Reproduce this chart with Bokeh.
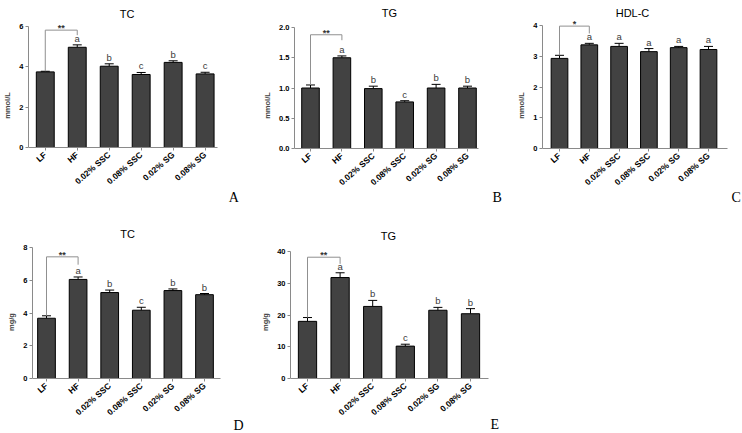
from bokeh.plotting import figure
from bokeh.layouts import row, column
from bokeh.models import (Range1d, FixedTicker, Label, Whisker, ColumnDataSource,
                          TeeHead, NumeralTickFormatter)
from bokeh.embed import file_html
from bokeh.resources import INLINE
from bokeh.core.properties import value

groups = ["LF", "HF", "0.02% SSC", "0.08% SSC", "0.02% SG", "0.08% SG"]

# A: serum TC (mmol/L)
tc_serum = [3.75, 4.97, 4.03, 3.62, 4.22, 3.65]
tc_serum_err = [0.03, 0.12, 0.12, 0.10, 0.08, 0.08]
tc_serum_letters = ["", "a", "b", "c", "b", "c"]
tc_serum_ticks = [0, 2, 4, 6]
tc_serum_bracket = [3.78, 5.82, 5.57]

# B: serum TG (mmol/L)
tg_serum = [1.00, 1.50, 0.99, 0.77, 1.00, 1.00]
tg_serum_err = [0.05, 0.03, 0.04, 0.02, 0.06, 0.03]
tg_serum_letters = ["", "a", "b", "c", "b", "b"]
tg_serum_ticks = [0, 0.5, 1.0, 1.5, 2.0]
tg_serum_bracket = [1.05, 1.88, 1.79]

# C: serum HDL-C (mmol/L)
hdl_serum = [2.93, 3.37, 3.32, 3.15, 3.28, 3.22]
hdl_serum_err = [0.10, 0.05, 0.10, 0.10, 0.04, 0.10]
hdl_serum_letters = ["", "a", "a", "a", "a", "a"]
hdl_serum_ticks = [0, 1, 2, 3, 4]
hdl_serum_bracket = [3.03, 3.98, 3.74]

# D: liver TC (mg/g)
tc_liver = [3.68, 6.05, 5.25, 4.17, 5.37, 5.12]
tc_liver_err = [0.15, 0.15, 0.15, 0.18, 0.10, 0.07]
tc_liver_letters = ["", "a", "b", "c", "b", "b"]
tc_liver_ticks = [0, 2, 4, 6, 8]
tc_liver_bracket = [3.83, 7.43, 6.95]

# E: liver TG (mg/g)
tg_liver = [18.0, 31.8, 22.7, 10.2, 21.5, 20.4]
tg_liver_err = [1.2, 1.5, 1.9, 0.6, 0.9, 1.6]
tg_liver_letters = ["", "a", "b", "c", "b", "b"]
tg_liver_ticks = [0, 10, 20, 30, 40]
tg_liver_bracket = [19.2, 38.2, 36.1]

FONT = "Liberation Sans"
AXIS_GRAY = "#8a8a8a"
BAR_FILL = "#424242"


def panel(title, ylabel, vals, errs, letters, ticks, ymax, fmt, bracket, stars, panel_letter,
          box, axis_x, y0_px, ytop_px, lf_px, step_px, axis_end_px, title_px, letter_px):
    # box: (left, top, width, height) of the figure on the page (pixels)
    fx, fy, w, h = box
    k = (y0_px - ytop_px) / ymax

    def X(px):
        return (px - lf_px) / step_px

    def Y(py):
        return (y0_px - py) / k

    p = figure(width=w, height=h, output_backend="svg", toolbar_location=None,
               x_range=Range1d(X(axis_x), X(fx + w)), y_range=Range1d(Y(fy + h), Y(fy)),
               min_border_left=axis_x - fx, min_border_right=0,
               min_border_top=0, min_border_bottom=0)
    p.outline_line_color = None
    p.xgrid.visible = False
    p.ygrid.visible = False
    p.background_fill_color = "white"
    p.border_fill_color = "white"

    xs = list(range(len(groups)))
    src = ColumnDataSource(dict(x=xs, top=vals, up=[v + e for v, e in zip(vals, errs)],
                                lab=letters))
    p.vbar(x="x", top="top", width=0.56, bottom=0, source=src,
           fill_color=BAR_FILL, line_color="black", line_width=1)
    p.add_layout(Whisker(base="x", upper="up", lower="top", source=src,
                         line_color="black", line_width=1,
                         upper_head=TeeHead(size=9, line_color="black", line_width=1),
                         lower_head=None))
    p.text(x="x", y="up", text="lab", source=src, text_align="center",
           text_baseline="bottom", y_offset=-1, text_font=value(FONT),
           text_font_size="9.5px", text_color="#3a3a3a")

    # significance bracket between LF and HF
    p.line(x=[0, 0, 1, 1], y=[bracket[0], bracket[1], bracket[1], bracket[2]],
           line_color="#909090", line_width=1)
    p.add_layout(Label(x=0.5, y=bracket[1], text=stars, text_align="center",
                       text_baseline="bottom", y_offset=-3, text_font=FONT,
                       text_font_size="9px", text_font_style="bold",
                       text_color="#333333"))

    # panel title and panel letter
    p.add_layout(Label(x=X(title_px[0]), y=Y(title_px[1]), text=title, text_align="center",
                       text_baseline="alphabetic", text_font=FONT, text_font_size="11px",
                       text_color="black"))
    p.add_layout(Label(x=X(letter_px[0]), y=Y(letter_px[1]), text=panel_letter,
                       text_align="left", text_baseline="alphabetic",
                       text_font="Liberation Serif", text_font_size="14px",
                       text_color="black"))

    for ax in (p.xaxis[0], p.yaxis[0]):
        ax.axis_line_color = AXIS_GRAY
        ax.axis_line_width = 1
        ax.major_tick_line_color = AXIS_GRAY
        ax.major_tick_out = 3
        ax.major_tick_in = 0
        ax.minor_tick_line_color = None
        ax.major_label_text_font = FONT
        ax.major_label_text_font_style = "bold"
        ax.major_label_text_color = "black"

    p.xaxis.fixed_location = 0
    p.xaxis.bounds = (X(axis_x), X(axis_end_px))
    p.xaxis.ticker = FixedTicker(ticks=xs)
    p.xaxis.major_label_overrides = {i: g for i, g in enumerate(groups)}
    p.xaxis.major_label_orientation = 0.72
    p.xaxis.major_label_text_font_size = "8.5px"
    p.xaxis.major_label_standoff = 3

    p.yaxis.ticker = FixedTicker(ticks=ticks)
    p.yaxis.bounds = (0, ymax)
    p.yaxis.formatter = NumeralTickFormatter(format=fmt)
    p.yaxis.major_label_text_font_size = "7.5px"
    p.yaxis.major_label_standoff = 2
    p.yaxis.axis_label = ylabel
    p.yaxis.axis_label_text_font = FONT
    p.yaxis.axis_label_text_font_size = "7.5px"
    p.yaxis.axis_label_text_font_style = "bold"
    p.yaxis.axis_label_standoff = 4
    return p


pA = panel("TC", "mmol/L", tc_serum, tc_serum_err, tc_serum_letters, tc_serum_ticks, 6, "0",
           tc_serum_bracket, "**", "A",
           box=(0, 0, 250, 210), axis_x=25, y0_px=147, ytop_px=26,
           lf_px=42, step_px=32.4, axis_end_px=217, title_px=(125, 13), letter_px=(228, 197))
pB = panel("TG", "mmol/L", tg_serum, tg_serum_err, tg_serum_letters, tg_serum_ticks, 2.0, "0.0",
           tg_serum_bracket, "**", "B",
           box=(250, 0, 255, 210), axis_x=294, y0_px=148, ytop_px=27,
           lf_px=310, step_px=31.4, axis_end_px=478, title_px=(389, 12), letter_px=(492, 197))
pC = panel("HDL-C", "mmol/L", hdl_serum, hdl_serum_err, hdl_serum_letters, hdl_serum_ticks, 4,
           "0", hdl_serum_bracket, "*", "C",
           box=(505, 0, 237, 210), axis_x=542, y0_px=148, ytop_px=25,
           lf_px=559, step_px=29.8, axis_end_px=727, title_px=(632, 12), letter_px=(731, 197))
pD = panel("TC", "mg/g", tc_liver, tc_liver_err, tc_liver_letters, tc_liver_ticks, 8, "0",
           tc_liver_bracket, "**", "D",
           box=(0, 210, 250, 223), axis_x=32, y0_px=378, ytop_px=247,
           lf_px=46, step_px=31.6, axis_end_px=220, title_px=(127, 233), letter_px=(233, 425))
pE = panel("TG", "mg/g", tg_liver, tg_liver_err, tg_liver_letters, tg_liver_ticks, 40, "0",
           tg_liver_bracket, "**", "E",
           box=(250, 210, 260, 223), axis_x=290, y0_px=378, ytop_px=251,
           lf_px=307, step_px=32.6, axis_end_px=488, title_px=(388, 235), letter_px=(490, 424))

layout = column(row(pA, pB, pC), row(pD, pE))
open("out.html", "w").write(file_html(layout, INLINE))
